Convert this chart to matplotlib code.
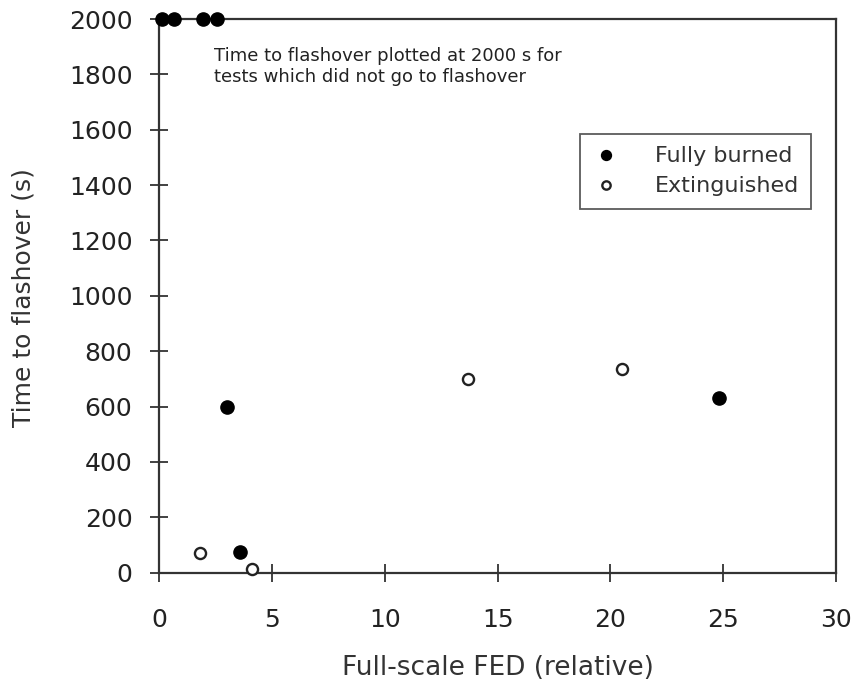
import matplotlib
matplotlib.use("Agg")
import matplotlib.pyplot as plt

# data
burned_fed = [0.12, 0.64, 1.92, 2.55, 2.98, 3.55, 24.8]
burned_time = [2000, 2000, 2000, 2000, 600, 75, 630]
ext_fed = [1.78, 4.1, 13.7, 20.5]
ext_time = [72, 12, 700, 735]

xticks = [0, 5, 10, 15, 20, 25, 30]
yticks = list(range(0, 2001, 200))

plt.rcParams['font.family'] = ['DejaVu Sans']

fig = plt.figure(figsize=(8.56, 6.87), dpi=100)
ax = fig.add_axes([0.1863, 0.1664, 0.9766 - 0.1863, 0.9723 - 0.1664])

ax.plot(burned_fed, burned_time, 'o', color='black', markersize=9.5,
        label='Fully burned', clip_on=False, zorder=3)
ax.plot(ext_fed, ext_time, 'o', markerfacecolor='white', markeredgecolor='#222222',
        markeredgewidth=1.7, markersize=8, label='Extinguished', clip_on=False, zorder=3)

ax.set_xlim(0, 30)
ax.set_ylim(0, 2000)
ax.set_xticks(xticks)
ax.set_yticks(yticks)
ax.tick_params(direction='inout', length=13, width=1.3, labelsize=18, colors='#333333',
               labelcolor='#222222')
ax.tick_params(axis='x', pad=19)
ax.tick_params(axis='y', pad=13)
for s in ax.spines.values():
    s.set_linewidth(1.6)
    s.set_color('#333333')

ax.set_xlabel('Full-scale FED (relative)', fontsize=19, color='#333333')
ax.set_ylabel('Time to flashover (s)', fontsize=18, color='#333333')
ax.xaxis.set_label_coords(0.5, -0.148)
ax.yaxis.set_label_coords(-0.183, 0.497)

ax.text(2.4, 1900, 'Time to flashover plotted at 2000 s for\ntests which did not go to flashover',
        fontsize=13, color='#222222', va='top', linespacing=1.25)

leg = ax.legend(loc='upper left', bbox_to_anchor=(0.622, 0.792), fontsize=16,
                frameon=True, fancybox=False, edgecolor='#333333', markerscale=0.75,
                handlelength=1.2, handletextpad=1.6, borderpad=0.55, labelspacing=0.45,
                borderaxespad=0)
leg.get_frame().set_linewidth(1.3)
for t in leg.get_texts():
    t.set_color('#333333')

fig.savefig('out.png', dpi=100)
